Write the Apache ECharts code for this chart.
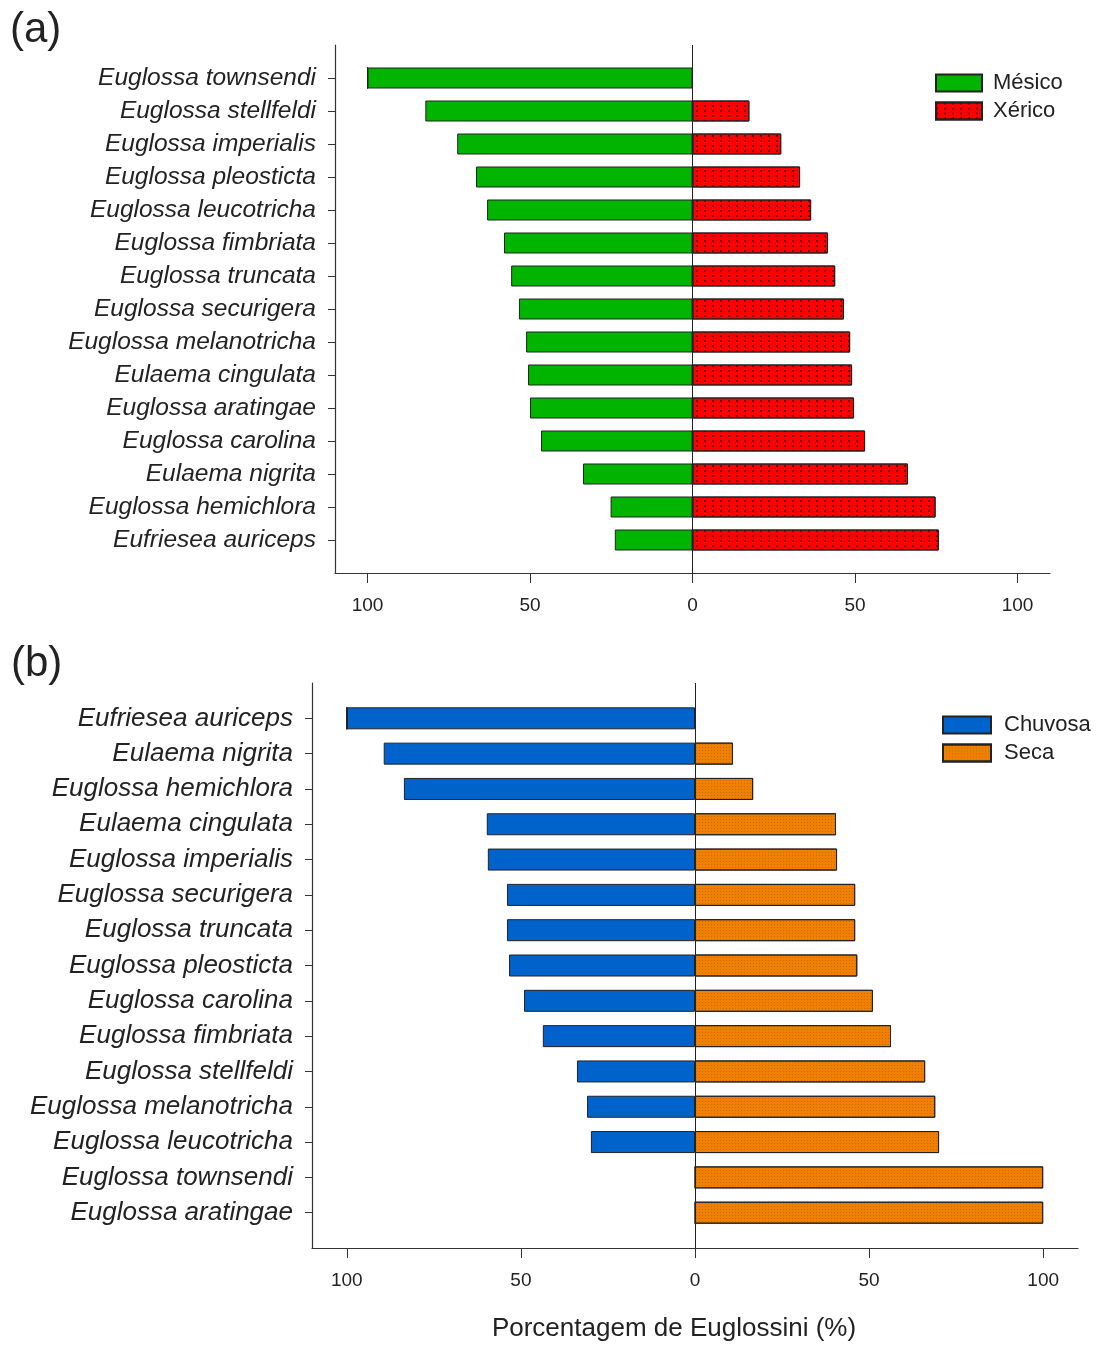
<!DOCTYPE html>
<html>
<head>
<meta charset="utf-8">
<script src="https://cdn.jsdelivr.net/npm/echarts@6/dist/echarts.min.js"></script>
<style>
  html, body { margin: 0; padding: 0; background: #fff; }
  #chart { width: 1096px; height: 1345px; }
</style>
</head>
<body>
<div id="chart"></div>
<script>
  // painel (a): Mésico x Xérico
  var speciesA = ['Euglossa townsendi', 'Euglossa stellfeldi', 'Euglossa imperialis', 'Euglossa pleosticta',
    'Euglossa leucotricha', 'Euglossa fimbriata', 'Euglossa truncata', 'Euglossa securigera',
    'Euglossa melanotricha', 'Eulaema cingulata', 'Euglossa aratingae', 'Euglossa carolina',
    'Eulaema nigrita', 'Euglossa hemichlora', 'Eufriesea auriceps'];
  var mesico = [100, 82.2, 72.4, 66.6, 63.2, 58.0, 55.8, 53.4, 51.2, 50.6, 50.0, 46.6, 33.7, 25.2, 23.9];
  var xerico = [0, 17.5, 27.3, 33.1, 36.5, 41.7, 43.9, 46.6, 48.5, 49.1, 49.7, 53.1, 66.3, 74.8, 75.8];

  // painel (b): Chuvosa x Seca
  var speciesB = ['Eufriesea auriceps', 'Eulaema nigrita', 'Euglossa hemichlora', 'Eulaema cingulata',
    'Euglossa imperialis', 'Euglossa securigera', 'Euglossa truncata', 'Euglossa pleosticta',
    'Euglossa carolina', 'Euglossa fimbriata', 'Euglossa stellfeldi', 'Euglossa melanotricha',
    'Euglossa leucotricha', 'Euglossa townsendi', 'Euglossa aratingae'];
  var chuvosa = [100, 89.4, 83.6, 59.8, 59.5, 54.0, 54.0, 53.4, 49.1, 43.7, 33.9, 31.0, 29.9, 0, 0];
  var seca = [0, 10.9, 16.7, 40.5, 40.8, 46.0, 46.0, 46.6, 51.1, 56.3, 66.1, 69.0, 70.1, 100, 100];

  var xTicks = [-100, -50, 0, 50, 100];

  var font = "'Liberation Sans', Arial, sans-serif";
  var ink = '#222';

  function neg(arr) {
    return arr.map(function (v) { return -v; });
  }
  // categoria vazia em cima e embaixo, para o eixo sobrar como no original
  function padded(names) {
    return [''].concat(names).concat(['']);
  }
  function padData(arr) {
    return ['-'].concat(arr).concat(['-']);
  }

  function xAxisFor(gridIndex, name) {
    return {
      gridIndex: gridIndex,
      type: 'value',
      min: -110,
      max: 110,
      name: name || '',
      nameLocation: 'middle',
      nameGap: 68,
      nameTextStyle: { fontFamily: font, fontSize: 26, color: ink, padding: [0, 42, 0, 0] },
      axisLine: { show: true, onZero: false, lineStyle: { color: '#333', width: 1.2 } },
      axisTick: { show: true, customValues: xTicks, length: 10, lineStyle: { color: '#333' } },
      axisLabel: {
        customValues: xTicks,
        margin: 23,
        fontFamily: font,
        fontSize: 19,
        color: ink,
        formatter: function (v) { return Math.abs(v); }
      },
      splitLine: { show: false }
    };
  }

  function yAxisFor(gridIndex, names, size) {
    var n = names.length + 1;
    return {
      gridIndex: gridIndex,
      type: 'category',
      inverse: true,
      boundaryGap: false,
      data: padded(names),
      axisLine: { show: true, onZero: false, lineStyle: { color: '#333', width: 1.2 } },
      axisTick: {
        show: true,
        length: 7,
        interval: function (i) { return i > 0 && i < n; },
        lineStyle: { color: '#333' }
      },
      axisLabel: {
        interval: 0,
        margin: 19,
        fontFamily: font,
        fontStyle: 'italic',
        fontSize: size,
        color: ink
      },
      splitLine: { show: false }
    };
  }

  var zeroLine = {
    silent: true,
    symbol: ['none', 'none'],
    label: { show: false },
    lineStyle: { color: ink, type: 'solid', width: 1 },
    data: [{ xAxis: 0 }]
  };

  var redDots = {
    symbol: 'rect',
    symbolSize: 1,
    color: 'rgba(70, 0, 0, 0.75)',
    dashArrayX: [2, 6],
    dashArrayY: [2, 3]
  };
  var orangeDots = {
    symbol: 'rect',
    symbolSize: 1,
    color: 'rgba(140, 70, 0, 0.35)',
    dashArrayX: [1, 2],
    dashArrayY: [1, 2]
  };

  var chart = echarts.init(document.getElementById('chart'));
  var option = {
    animation: false,
    backgroundColor: '#fff',
    textStyle: { fontFamily: font },
    title: [
      { text: '(a)', left: 5, top: 4, textStyle: { fontFamily: font, fontSize: 42, fontWeight: 'normal', color: ink } },
      { text: '(b)', left: 6, top: 638, textStyle: { fontFamily: font, fontSize: 42, fontWeight: 'normal', color: ink } }
    ],
    legend: [
      {
        data: ['Mésico', 'Xérico'],
        orient: 'vertical',
        left: 930,
        top: 67,
        itemWidth: 46,
        itemHeight: 17,
        itemGap: 6,
        icon: 'rect',
        textStyle: { fontFamily: font, fontSize: 22, lineHeight: 22, color: ink, padding: [0, 0, 0, 6] }
      },
      {
        data: ['Chuvosa', 'Seca'],
        orient: 'vertical',
        left: 937,
        top: 709,
        itemWidth: 48,
        itemHeight: 17,
        itemGap: 6,
        icon: 'rect',
        textStyle: { fontFamily: font, fontSize: 22, lineHeight: 22, color: ink, padding: [0, 0, 0, 8] }
      }
    ],
    grid: [
      { left: 335, right: 46, top: 45, height: 528 },
      { left: 312, right: 18, top: 683, height: 565 }
    ],
    xAxis: [xAxisFor(0), xAxisFor(1, 'Porcentagem de Euglossini (%)')],
    yAxis: [yAxisFor(0, speciesA, 24.5), yAxisFor(1, speciesB, 26)],
    series: [
      {
        name: 'Mésico',
        type: 'bar',
        xAxisIndex: 0,
        yAxisIndex: 0,
        stack: 'a',
        barWidth: 21,
        data: padData(neg(mesico)),
        itemStyle: { color: '#00B400', borderColor: ink, borderWidth: 1 }
      },
      {
        name: 'Xérico',
        type: 'bar',
        xAxisIndex: 0,
        yAxisIndex: 0,
        stack: 'a',
        barWidth: 21,
        data: padData(xerico),
        itemStyle: { color: '#FF0000', borderColor: ink, borderWidth: 1, decal: redDots },
        markLine: zeroLine
      },
      {
        name: 'Chuvosa',
        type: 'bar',
        xAxisIndex: 1,
        yAxisIndex: 1,
        stack: 'b',
        barWidth: 22,
        data: padData(neg(chuvosa)),
        itemStyle: { color: '#0063CC', borderColor: ink, borderWidth: 1 }
      },
      {
        name: 'Seca',
        type: 'bar',
        xAxisIndex: 1,
        yAxisIndex: 1,
        stack: 'b',
        barWidth: 22,
        data: padData(seca),
        itemStyle: { color: '#F08000', borderColor: ink, borderWidth: 1, decal: orangeDots },
        markLine: zeroLine
      }
    ]
  };
  chart.setOption(option);
</script>
</body>
</html>
